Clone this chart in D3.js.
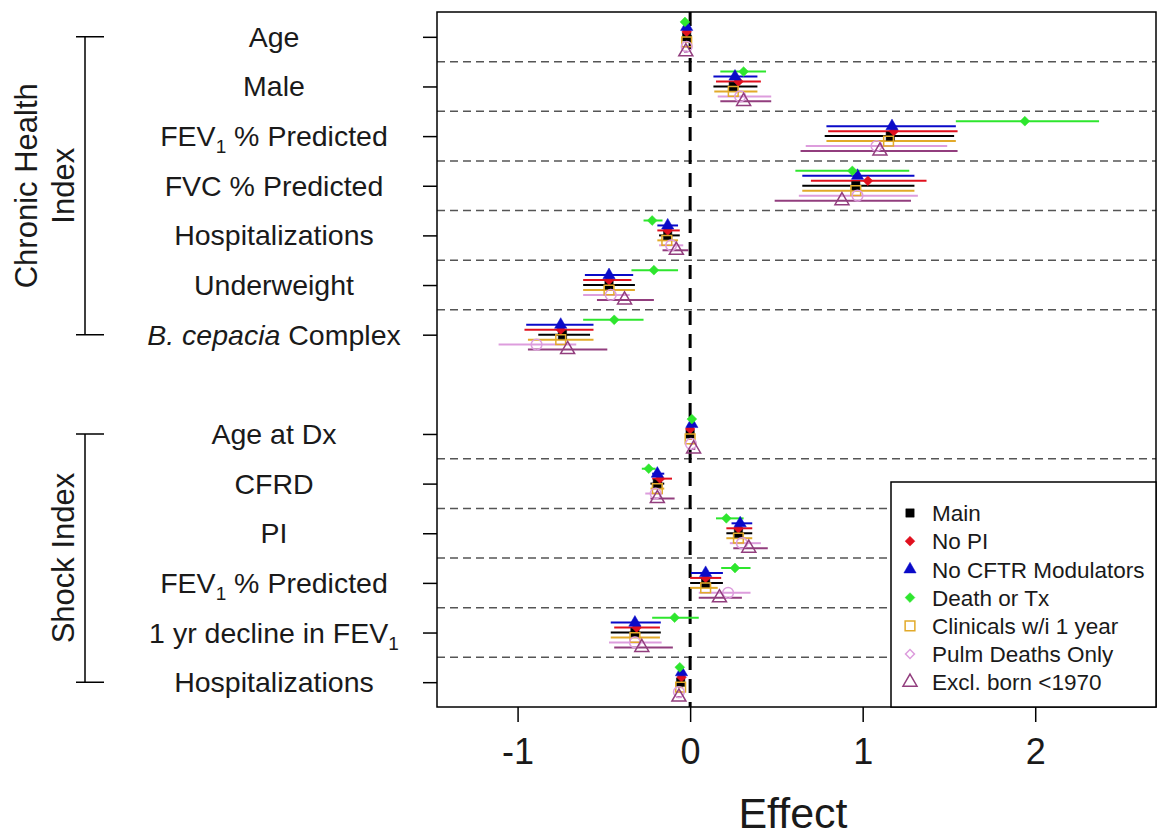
<!DOCTYPE html>
<html>
<head>
<meta charset="utf-8">
<script src="https://cdn.jsdelivr.net/npm/d3@7"></script>
<style>
body { margin: 0; background: #fff; }
text { font-family: "Liberation Sans", Arial, sans-serif; fill: #1a1a1a; }
</style>
</head>
<body>
<div id="chart"></div>
<script>
//---------------------------DATA--------------------------------//
// "_1" = subscript 1, *...* = italic
var rowLabels = ["Age", "Male", "FEV_1 % Predicted", "FVC % Predicted", "Hospitalizations",
    "Underweight", "*B. cepacia* Complex", "Age at Dx", "CFRD", "PI",
    "FEV_1 % Predicted", "1 yr decline in FEV_1", "Hospitalizations"];
var rowPos = [0, 1, 2, 3, 4, 5, 6, 8, 9, 10, 11, 12, 13];

var groupNames = [["Chronic Health", "Index"], ["Shock Index"]];
var groupStart = [0, 8];
var groupEnd = [6, 13];

var seriesNames = ["Main", "No PI", "No CFTR Modulators", "Death or Tx",
    "Clinicals w/i 1 year", "Pulm Deaths Only", "Excl. born <1970"];

var xTicks = [-1, 0, 1, 2];

var mainEst = [-0.02, 0.25, 1.16, 0.96, -0.13, -0.47, -0.74, 0.00, -0.19, 0.28, 0.09, -0.32, -0.055];
var mainLo  = [-0.03, 0.135, 0.78, 0.65, -0.18, -0.62, -0.88, -0.01, -0.23, 0.21, 0.00, -0.46, -0.07];
var mainHi  = [-0.01, 0.39, 1.53, 1.30, -0.06, -0.32, -0.58, 0.01, -0.15, 0.36, 0.19, -0.17, -0.04];

var noPiEst = [-0.02, 0.28, 1.18, 1.03, -0.13, -0.47, -0.75, 0.00, -0.175, 0.28, 0.09, -0.31, -0.05];
var noPiLo  = [-0.03, 0.15, 0.80, 0.70, -0.19, -0.62, -0.96, -0.01, -0.22, 0.21, 0.00, -0.44, -0.065];
var noPiHi  = [-0.01, 0.41, 1.55, 1.37, -0.06, -0.34, -0.56, 0.01, -0.105, 0.36, 0.18, -0.175, -0.035];

var noCftrEst = [-0.02, 0.26, 1.17, 0.97, -0.13, -0.47, -0.75, 0.01, -0.19, 0.29, 0.09, -0.32, -0.05];
var noCftrLo  = [-0.03, 0.135, 0.79, 0.65, -0.19, -0.61, -0.95, 0.00, -0.22, 0.24, 0.005, -0.46, -0.065];
var noCftrHi  = [-0.01, 0.39, 1.54, 1.30, -0.07, -0.33, -0.56, 0.02, -0.15, 0.36, 0.19, -0.17, -0.035];

var deathEst = [-0.03, 0.31, 1.94, 0.94, -0.22, -0.21, -0.44, 0.01, -0.24, 0.21, 0.26, -0.09, -0.06];
var deathLo  = [-0.035, 0.175, 1.54, 0.61, -0.27, -0.34, -0.62, 0.005, -0.28, 0.15, 0.18, -0.22, -0.065];
var deathHi  = [-0.025, 0.44, 2.37, 1.27, -0.16, -0.07, -0.27, 0.015, -0.20, 0.31, 0.35, 0.05, -0.055];

var clinEst = [-0.02, 0.25, 1.15, 0.96, -0.135, -0.47, -0.75, 0.00, -0.19, 0.28, 0.09, -0.32, -0.055];
var clinLo  = [-0.03, 0.14, 0.79, 0.65, -0.19, -0.62, -0.94, -0.01, -0.23, 0.21, 0.00, -0.46, -0.07];
var clinHi  = [-0.01, 0.39, 1.54, 1.30, -0.07, -0.32, -0.56, 0.01, -0.15, 0.36, 0.16, -0.175, -0.04];

var pulmEst = [-0.02, 0.29, 1.08, 0.97, -0.11, -0.46, -0.89, 0.005, -0.20, 0.30, 0.22, -0.32, -0.065];
var pulmLo  = [-0.03, 0.16, 0.67, 0.63, -0.18, -0.62, -1.11, -0.005, -0.26, 0.23, 0.05, -0.47, -0.08];
var pulmHi  = [-0.01, 0.47, 1.49, 1.32, -0.04, -0.35, -0.66, 0.015, -0.16, 0.41, 0.35, -0.165, -0.05];

var exclEst = [-0.025, 0.31, 1.10, 0.88, -0.08, -0.38, -0.71, 0.02, -0.19, 0.34, 0.17, -0.28, -0.065];
var exclLo  = [-0.035, 0.175, 0.64, 0.49, -0.16, -0.54, -0.94, 0.01, -0.23, 0.25, 0.05, -0.44, -0.08];
var exclHi  = [-0.015, 0.47, 1.55, 1.28, -0.01, -0.21, -0.48, 0.03, -0.09, 0.45, 0.30, -0.10, -0.05];

//---------------------------STYLE-------------------------------//
// vertical offset inside a row (rows units), colour, marker
var series = [
    {est: mainEst,   lo: mainLo,   hi: mainHi,   off: 0,    color: "#000000", shape: "square",   fill: true,  size: 70},
    {est: noPiEst,   lo: noPiLo,   hi: noPiHi,   off: -0.1, color: "#e0101e", shape: "diamond",  fill: true,  size: 48},
    {est: noCftrEst, lo: noCftrLo, hi: noCftrHi, off: -0.2, color: "#0a0ac8", shape: "triangle", fill: true,  size: 65},
    {est: deathEst,  lo: deathLo,  hi: deathHi,  off: -0.3, color: "#2ee62e", shape: "diamond",  fill: true,  size: 48},
    {est: clinEst,   lo: clinLo,   hi: clinHi,   off: 0.1,  color: "#e2aa2a", shape: "square",   fill: false, size: 95},
    {est: pulmEst,   lo: pulmLo,   hi: pulmHi,   off: 0.2,  color: "#dd9ddd", shape: "circle",   fill: false, size: 90},
    {est: exclEst,   lo: exclLo,   hi: exclHi,   off: 0.3,  color: "#923e7e", shape: "triangle", fill: false, size: 85}
];
// legend symbol shapes, top-down
var legendShape = ["square", "diamond", "triangle", "diamond", "square", "diamond", "triangle"];

//---------------------------SVG---------------------------------//
const width = 1159;
const height = 836;
const plotLeft = 437, plotRight = 1156, plotTop = 12, plotBottom = 707;

const svg = d3.select("#chart").append("svg")
    .attr("width", width)
    .attr("height", height);

const x = d3.scaleLinear().domain([-1.467, 2.70]).range([plotLeft, plotRight]);
const y = d3.scaleLinear().domain([-0.5, 13.5]).range([plotTop, plotBottom]);

function symbolPath(shape, size){
    var type = d3.symbolSquare;
    if (shape == "triangle") type = d3.symbolTriangle;
    if (shape == "circle") type = d3.symbolCircle;
    return d3.symbol().type(type).size(size)();
}

//------------------------GRID LINES-----------------------------//
var sepRows = [];
rowPos.forEach(function(p, i){
    if (i < rowPos.length - 1 && rowPos[i + 1] == p + 1) sepRows.push(p + 0.5);
});
svg.append("g").selectAll("line")
    .data(sepRows)
    .join("line")
    .attr("x1", plotLeft).attr("x2", plotRight)
    .attr("y1", d => y(d)).attr("y2", d => y(d))
    .attr("stroke", "#555")
    .attr("stroke-width", 1.5)
    .attr("stroke-dasharray", "8,5");

svg.append("line")
    .attr("x1", x(0)).attr("x2", x(0))
    .attr("y1", plotTop).attr("y2", plotBottom)
    .attr("stroke", "#000")
    .attr("stroke-width", 3)
    .attr("stroke-dasharray", "14,9");

//--------------------------SERIES-------------------------------//
series.forEach(function(s){
    svg.append("g").selectAll("line")
        .data(rowPos)
        .join("line")
        .attr("x1", (d, i) => x(s.lo[i]))
        .attr("x2", (d, i) => x(s.hi[i]))
        .attr("y1", d => y(d + s.off))
        .attr("y2", d => y(d + s.off))
        .attr("stroke", s.color)
        .attr("stroke-width", 2);
});
series.forEach(function(s){
    svg.append("g").selectAll("path")
        .data(rowPos)
        .join("path")
        .attr("d", symbolPath(s.shape, s.size))
        .attr("transform", (d, i) => "translate(" + x(s.est[i]) + "," + y(d + s.off) + ")"
            + (s.shape == "diamond" ? " rotate(45)" : ""))
        .attr("fill", s.fill ? s.color : "none")
        .attr("stroke", s.color)
        .attr("stroke-width", s.fill ? 0.5 : 1.5);
});

//---------------------------AXES--------------------------------//
svg.append("g")
    .attr("transform", "translate(0," + plotBottom + ")")
    .call(d3.axisBottom(x).tickValues(xTicks).tickSize(15).tickPadding(16).tickFormat(d => String(d)))
    .call(g => g.select(".domain").remove())
    .call(g => g.selectAll("line").attr("stroke", "#000").attr("stroke-width", 1.5))
    .call(g => g.selectAll("text").attr("font-size", 36).attr("font-family", null).attr("fill", "#1a1a1a"));

svg.append("g")
    .attr("transform", "translate(" + plotLeft + ",0)")
    .call(d3.axisLeft(y).tickValues(rowPos).tickSize(14).tickFormat(""))
    .call(g => g.select(".domain").remove())
    .call(g => g.selectAll("line").attr("stroke", "#000").attr("stroke-width", 1.5));

svg.append("text")
    .attr("x", 793)
    .attr("y", 828)
    .attr("text-anchor", "middle")
    .attr("font-size", 43)
    .text("Effect");

// plot frame
svg.append("rect")
    .attr("x", plotLeft).attr("y", plotTop)
    .attr("width", plotRight - plotLeft).attr("height", plotBottom - plotTop)
    .attr("fill", "none")
    .attr("stroke", "#000")
    .attr("stroke-width", 1.5);

//------------------------ROW LABELS-----------------------------//
rowLabels.forEach(function(lab, i){
    var t = svg.append("text")
        .attr("x", 274)
        .attr("y", y(rowPos[i]) + 10)
        .attr("text-anchor", "middle")
        .attr("font-size", 28.5);
    var shift = 0;
    lab.split(/(_1|\*[^*]+\*)/).forEach(function(part){
        if (part == "") return;
        if (part == "_1") {
            t.append("tspan").attr("font-size", 19).attr("dy", 7).text("1");
            shift = -7;
            return;
        }
        var ts = t.append("tspan").text(part.replace(/\*/g, ""));
        if (part[0] == "*") ts.attr("font-style", "italic");
        if (shift) { ts.attr("dy", shift); shift = 0; }
    });
});

//-------------------------BRACKETS------------------------------//
groupNames.forEach(function(lines, k){
    var y0 = y(groupStart[k]), y1 = y(groupEnd[k]);
    svg.append("path")
        .attr("d", "M76," + y0 + "H104M85," + y0 + "V" + y1 + "M76," + y1 + "H104")
        .attr("fill", "none")
        .attr("stroke", "#000")
        .attr("stroke-width", 1.5);
    var mid = (y0 + y1) / 2;
    var n = lines.length;
    lines.forEach(function(line, j){
        var bx = 74 - (n - 1 - j) * 37;
        svg.append("text")
            .attr("transform", "translate(" + bx + "," + mid + ") rotate(-90)")
            .attr("text-anchor", "middle")
            .attr("font-size", 31)
            .text(line);
    });
});

//--------------------------LEGEND-------------------------------//
var legend = svg.append("g");
legend.append("rect")
    .attr("x", 891).attr("y", 482)
    .attr("width", plotRight - 891).attr("height", plotBottom - 482)
    .attr("fill", "#fff")
    .attr("stroke", "#000")
    .attr("stroke-width", 1.5);

seriesNames.forEach(function(name, i){
    var s = series[i];
    var ly = 513 + i * 28.2;
    var small = (i == 5);
    legend.append("path")
        .attr("d", symbolPath(legendShape[i], small ? 40 : s.size))
        .attr("transform", "translate(910," + ly + ")" + (legendShape[i] == "diamond" ? " rotate(45)" : ""))
        .attr("fill", s.fill ? s.color : "none")
        .attr("stroke", s.color)
        .attr("stroke-width", s.fill ? 0.5 : 1.5);
    legend.append("text")
        .attr("x", 932)
        .attr("y", ly)
        .attr("dy", "0.36em")
        .attr("font-size", 22.5)
        .attr("fill", "#2a2a2a")
        .text(name);
});
</script>
</body>
</html>
